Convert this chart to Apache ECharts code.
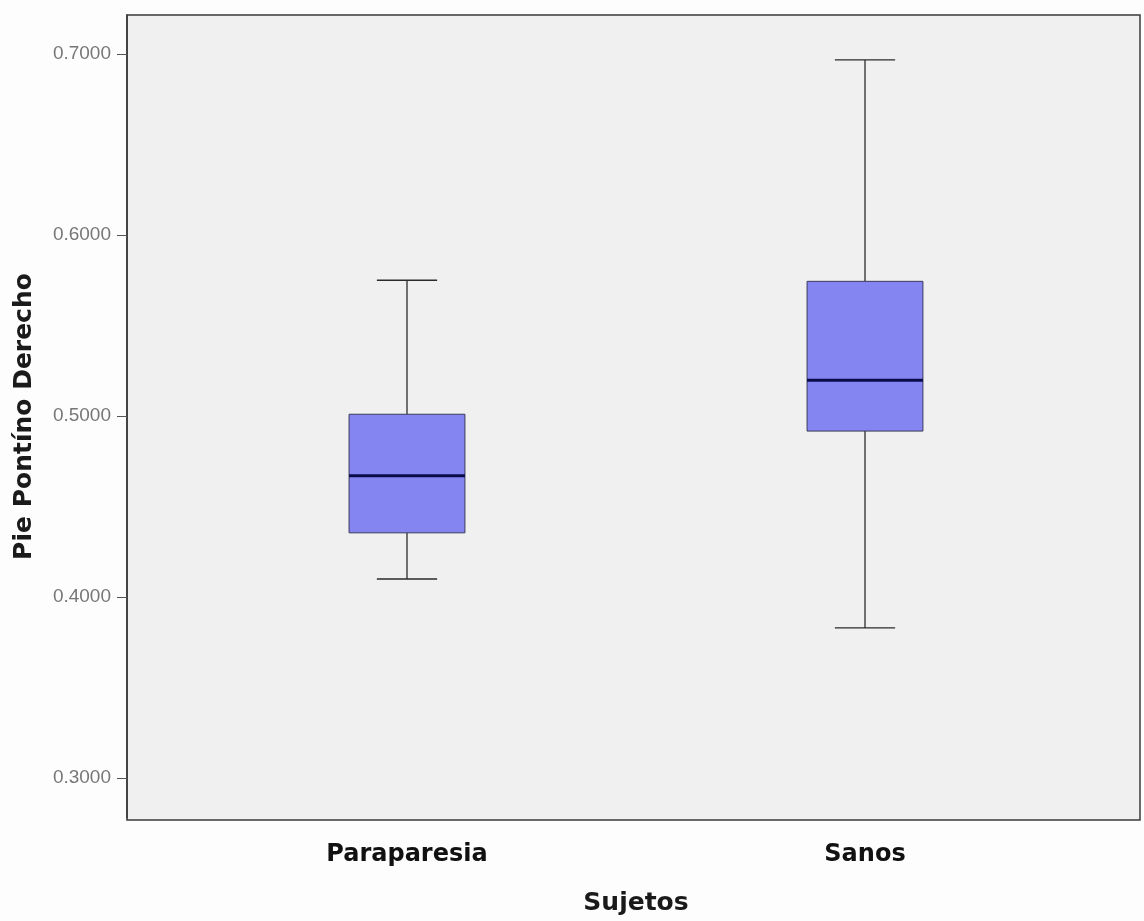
<!DOCTYPE html>
<html>
<head>
<meta charset="utf-8">
<script src="https://cdn.jsdelivr.net/npm/echarts@6/dist/echarts.min.js"></script>
<style>
  html, body { margin: 0; padding: 0; background: #fdfdfd; }
  #box { width: 1144px; height: 921px; }
</style>
</head>
<body>
<div id="box"></div>
<script>
// groups and their five-number summaries
let categories = ['Paraparesia', 'Sanos'];
let mins    = [0.410, 0.383];
let q1s     = [0.4355, 0.4917];
let medians = [0.467, 0.5198];
let q3s     = [0.501, 0.5744];
let maxs    = [0.575, 0.6967];

let data = [];
for (let i = 0; i < categories.length; i++) {
  data.push([i, mins[i], q1s[i], medians[i], q3s[i], maxs[i]]);
}

let myChart = echarts.init(document.getElementById('box'));

let renderBox = function (params, api) {
  let idx = api.value(0);
  let pMin = api.coord([idx, api.value(1)]);
  let pQ1 = api.coord([idx, api.value(2)]);
  let pMed = api.coord([idx, api.value(3)]);
  let pQ3 = api.coord([idx, api.value(4)]);
  let pMax = api.coord([idx, api.value(5)]);
  let band = api.size([1, 0])[0];
  let half = band * 0.253 / 2;
  let cap = half * 0.52;
  let x = pMed[0];
  let lineStyle = { stroke: '#2b2b2b', lineWidth: 1.3 };
  return {
    type: 'group',
    children: [
      { type: 'line', shape: { x1: x, y1: pMax[1], x2: x, y2: pQ3[1] }, style: lineStyle },
      { type: 'line', shape: { x1: x, y1: pQ1[1], x2: x, y2: pMin[1] }, style: lineStyle },
      { type: 'line', shape: { x1: x - cap, y1: pMax[1], x2: x + cap, y2: pMax[1] }, style: lineStyle },
      { type: 'line', shape: { x1: x - cap, y1: pMin[1], x2: x + cap, y2: pMin[1] }, style: lineStyle },
      {
        type: 'rect',
        shape: { x: x - half, y: pQ3[1], width: half * 2, height: pQ1[1] - pQ3[1] },
        style: { fill: '#8585f2', stroke: '#3a3a5a', lineWidth: 1 }
      },
      { type: 'line', shape: { x1: x - half, y1: pMed[1], x2: x + half, y2: pMed[1] },
        style: { stroke: '#0b0b4a', lineWidth: 3 } }
    ]
  };
};

let option = {
  backgroundColor: '#fdfdfd',
  grid: [
    {
      // frame of the plot area
      left: 127, right: 4, top: 15, bottom: 101,
      show: true,
      backgroundColor: '#f0f0f0',
      borderColor: '#3a3a3a',
      borderWidth: 1.5
    },
    {
      left: 178, right: 50, top: 15, bottom: 101
    }
  ],
  xAxis: [
    { gridIndex: 0, type: 'value', show: false, min: 0, max: 1 },
    {
      gridIndex: 1,
      type: 'category',
      data: categories,
      axisLine: { show: false },
      axisTick: {
        alignWithLabel: true,
        length: 8,
        lineStyle: { color: '#555' }
      },
      axisLabel: {
        margin: 25,
        color: '#111',
        fontFamily: 'DejaVu Sans',
        fontWeight: 'bold',
        fontSize: 24
      },
      name: 'Sujetos',
      nameLocation: 'middle',
      nameGap: 73,
      nameTextStyle: {
        color: '#1a1a1a',
        fontFamily: 'DejaVu Sans',
        fontWeight: 'bold',
        fontSize: 25
      }
    }
  ],
  yAxis: [
    { gridIndex: 0, type: 'value', show: false, min: 0, max: 1 },
    {
      gridIndex: 1,
      type: 'value',
      offset: 51,
      min: 0.278,
      max: 0.7215,
      splitNumber: 5,
      splitLine: { show: false },
      axisLine: { show: true, lineStyle: { color: '#3a3a3a', width: 1.5 } },
      axisTick: { show: true, length: 10, lineStyle: { color: '#555' } },
      axisLabel: {
        showMinLabel: false,
        showMaxLabel: false,
        color: '#777',
        fontFamily: 'Liberation Sans',
        fontSize: 19,
        margin: 16,
        formatter: function (v) { return v.toFixed(4); }
      },
      name: 'Pie Pontíno Derecho',
      nameLocation: 'middle',
      nameGap: 90,
      nameTextStyle: {
        color: '#1a1a1a',
        fontFamily: 'DejaVu Sans',
        fontWeight: 'bold',
        fontSize: 25
      }
    }
  ],
  series: [
    {
      name: 'cajas',
      type: 'custom',
      xAxisIndex: 1,
      yAxisIndex: 1,
      renderItem: renderBox,
      encode: { x: 0, y: [1, 2, 3, 4, 5] },
      data: data
    }
  ]
};
myChart.setOption(option);
</script>
</body>
</html>
